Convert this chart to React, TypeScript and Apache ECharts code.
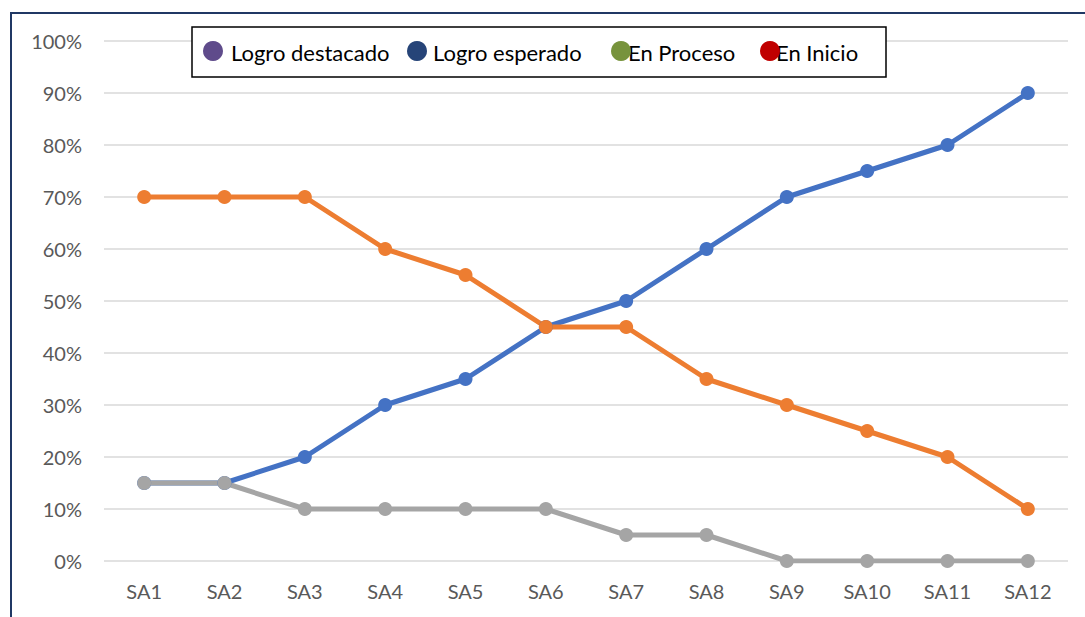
import React, { useEffect, useRef } from "react";
import * as echarts from "echarts";

const categories = ["SA1", "SA2", "SA3", "SA4", "SA5", "SA6", "SA7", "SA8", "SA9", "SA10", "SA11", "SA12"];
const blueValues = [15, 15, 20, 30, 35, 45, 50, 60, 70, 75, 80, 90];
const orangeValues = [70, 70, 70, 60, 55, 45, 45, 35, 30, 25, 20, 10];
const grayValues = [15, 15, 10, 10, 10, 10, 5, 5, 0, 0, 0, 0];
const legendNames = ["Logro destacado", "Logro esperado", "En Proceso", "En Inicio"];
const legendColors = ["#5f4b8b", "#264478", "#77933c", "#c00000"];
const legendDotX = [213, 417, 621, 770];
const legendTextX = [231, 433, 628, 776];

const FONT = "Lato, 'Open Sans', sans-serif";

export default function App() {
  const ref = useRef<HTMLDivElement>(null);
  useEffect(() => {
    if (!ref.current) return;
    const chart = echarts.init(ref.current, undefined, { renderer: "svg" });
    const lineSeries = (name: string, data: number[], color: string) => ({
      name,
      type: "line",
      data,
      symbol: "circle",
      symbolSize: 14,
      lineStyle: { color, width: 5 },
      itemStyle: { color },
      z: 3,
    });
    const graphics: any[] = [
      {
        type: "rect",
        shape: { x: 11, y: 13, width: 1100, height: 700 },
        style: { fill: "none", stroke: "#203864", lineWidth: 2 },
        silent: true,
        z: 10,
      },
      {
        type: "rect",
        shape: { x: 192, y: 27, width: 694, height: 50 },
        style: { fill: "#ffffff", stroke: "#000000", lineWidth: 1.5 },
        z: 10,
      },
    ];
    legendNames.forEach((n, i) => {
      graphics.push({
        type: "circle",
        shape: { cx: legendDotX[i], cy: 51, r: 10 },
        style: { fill: legendColors[i] },
        z: 12,
      });
      graphics.push({
        type: "text",
        x: legendTextX[i],
        y: 52,
        style: {
          text: n,
          fill: "#000000",
          font: `22px ${FONT}`,
          textVerticalAlign: "middle",
          verticalAlign: "middle",
        },
        z: 11,
      });
    });
    chart.setOption({
      animation: false,
      backgroundColor: "#ffffff",
      grid: { left: 104, right: 17, top: 41, bottom: 56, containLabel: false },
      xAxis: {
        type: "category",
        data: categories,
        boundaryGap: true,
        axisLine: { show: false },
        axisTick: { show: false },
        axisLabel: { color: "#595959", fontSize: 20, fontFamily: FONT, margin: 20 },
      },
      yAxis: {
        type: "value",
        min: 0,
        max: 100,
        interval: 10,
        axisLine: { show: false },
        axisTick: { show: false },
        splitLine: { lineStyle: { color: "#d9d9d9", width: 1.5 } },
        axisLabel: {
          color: "#595959",
          fontSize: 20,
          fontFamily: FONT,
          margin: 22,
          formatter: "{value}%",
        },
      },
      series: [
        lineSeries("Logro esperado", blueValues, "#4472c4"),
        lineSeries("En Inicio", orangeValues, "#ed7d31"),
        lineSeries("En Proceso", grayValues, "#a5a5a5"),
      ],
      graphic: graphics,
    });
    return () => chart.dispose();
  }, []);
  return (
    <div
      ref={ref}
      style={{ position: "fixed", left: 0, top: 0, width: 1085, height: 617, background: "#fff" }}
    />
  );
}
